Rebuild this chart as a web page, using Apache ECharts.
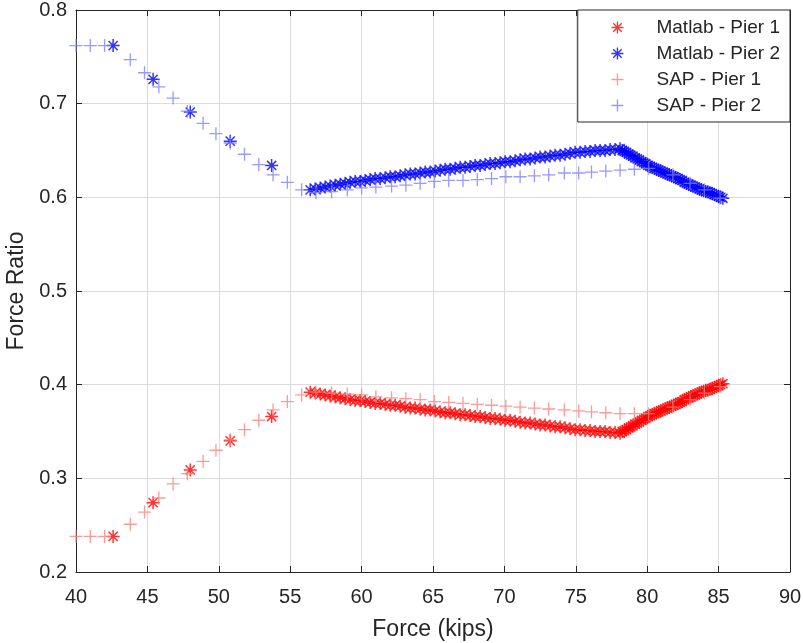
<!DOCTYPE html>
<html>
<head>
<meta charset="utf-8">
<script src="https://cdn.jsdelivr.net/npm/echarts@6/dist/echarts.min.js"></script>
<style>
  html, body { margin: 0; padding: 0; background: #fff; }
  #container { width: 803px; height: 643px; }
</style>
</head>
<body>
<div id="container"></div>
<script>
// force (kips) of the Matlab runs
const matlabX = [
    42.6, 45.4, 48.0, 50.8, 53.7,
    56.40, 56.75, 57.10, 57.45, 57.80, 58.15, 58.50, 58.85, 59.20, 59.55,
    59.90, 60.25, 60.60, 60.95, 61.30, 61.65, 62.00, 62.35, 62.70, 63.05,
    63.40, 63.75, 64.10, 64.45, 64.80, 65.15, 65.50, 65.85, 66.20, 66.55,
    66.90, 67.25, 67.60, 67.95, 68.30, 68.65, 69.00, 69.35, 69.70, 70.05,
    70.40, 70.75, 71.10, 71.45, 71.80, 72.15, 72.50, 72.85, 73.20, 73.55,
    73.90, 74.25, 74.60, 74.95, 75.30, 75.65, 76.00, 76.35, 76.70, 77.05,
    77.40, 77.75, 78.10,
    78.25, 78.40, 78.55, 78.70, 78.85, 79.00, 79.15, 79.30, 79.45, 79.60,
    79.75, 79.90, 80.05, 80.20, 80.35, 80.50, 80.65, 80.80, 80.95, 81.10,
    81.25, 81.40, 81.55, 81.70, 81.85, 82.00, 82.15, 82.30, 82.45, 82.60,
    82.75, 82.90, 83.05, 83.20, 83.35, 83.50, 83.65, 83.80, 83.95, 84.10,
    84.25, 84.40, 84.55, 84.70, 84.85, 85.00, 85.15, 85.30
];
const matlabPier1 = [
    0.238, 0.274, 0.309, 0.340, 0.366,
    0.392, 0.391, 0.390, 0.389, 0.388, 0.387, 0.386, 0.385, 0.384, 0.383,
    0.383, 0.382, 0.381, 0.380, 0.380, 0.379, 0.378, 0.378, 0.377, 0.376,
    0.375, 0.375, 0.374, 0.373, 0.373, 0.372, 0.371, 0.370, 0.370, 0.369,
    0.368, 0.368, 0.367, 0.366, 0.366, 0.365, 0.364, 0.364, 0.363, 0.362,
    0.362, 0.361, 0.360, 0.359, 0.359, 0.358, 0.357, 0.357, 0.356, 0.355,
    0.355, 0.354, 0.353, 0.352, 0.352, 0.351, 0.351, 0.350, 0.350, 0.350,
    0.349, 0.349, 0.348,
    0.350, 0.351, 0.352, 0.354, 0.355, 0.356, 0.358, 0.359, 0.360, 0.362,
    0.363, 0.364, 0.366, 0.367, 0.368, 0.369, 0.370, 0.371, 0.372, 0.373,
    0.374, 0.375, 0.376, 0.377, 0.378, 0.379, 0.380, 0.381, 0.382, 0.384,
    0.385, 0.386, 0.387, 0.388, 0.389, 0.390, 0.391, 0.392, 0.393, 0.394,
    0.394, 0.395, 0.396, 0.397, 0.398, 0.399, 0.400, 0.401
];
const matlabPier2 = [
    0.762, 0.726, 0.691, 0.660, 0.634,
    0.608, 0.609, 0.610, 0.611, 0.612, 0.613, 0.614, 0.615, 0.616, 0.617,
    0.617, 0.618, 0.619, 0.620, 0.620, 0.621, 0.622, 0.622, 0.623, 0.624,
    0.625, 0.625, 0.626, 0.627, 0.627, 0.628, 0.629, 0.630, 0.630, 0.631,
    0.632, 0.632, 0.633, 0.634, 0.634, 0.635, 0.636, 0.636, 0.637, 0.638,
    0.638, 0.639, 0.640, 0.641, 0.641, 0.642, 0.643, 0.643, 0.644, 0.645,
    0.645, 0.646, 0.647, 0.648, 0.648, 0.649, 0.649, 0.650, 0.650, 0.650,
    0.651, 0.651, 0.652,
    0.650, 0.649, 0.648, 0.646, 0.645, 0.644, 0.642, 0.641, 0.640, 0.638,
    0.637, 0.636, 0.634, 0.633, 0.632, 0.631, 0.630, 0.629, 0.628, 0.627,
    0.626, 0.625, 0.624, 0.623, 0.622, 0.621, 0.620, 0.619, 0.618, 0.616,
    0.615, 0.614, 0.613, 0.612, 0.611, 0.610, 0.609, 0.608, 0.607, 0.606,
    0.606, 0.605, 0.604, 0.603, 0.602, 0.601, 0.600, 0.599
];

// force (kips) of the SAP runs
const sapX = [
    40.0, 41.0, 42.0, 43.8, 44.8, 45.8, 46.8, 47.8, 48.9, 49.8,
    50.8, 51.8, 52.8, 53.8, 54.8, 55.8, 56.8, 57.9, 59.0, 60.0,
    61.0, 62.1, 63.1, 64.1, 65.1, 66.1, 67.1, 68.1, 69.1, 70.1,
    71.1, 72.1, 73.1, 74.2, 75.2, 76.1, 77.1, 78.1, 79.1, 80.1,
    81.8, 83.0, 84.0, 85.1
];
const sapPier1 = [
    0.238, 0.238, 0.238, 0.251, 0.264, 0.279, 0.294, 0.305, 0.318, 0.330,
    0.341, 0.352, 0.362, 0.373, 0.382, 0.389, 0.392, 0.391, 0.390, 0.389,
    0.387, 0.386, 0.385, 0.384, 0.382, 0.381, 0.380, 0.379, 0.378, 0.377,
    0.376, 0.375, 0.374, 0.373, 0.372, 0.371, 0.370, 0.369, 0.369, 0.369,
    0.376, 0.384, 0.391, 0.398
];
const sapPier2 = [
    0.762, 0.762, 0.762, 0.747, 0.733, 0.718, 0.706, 0.692, 0.679, 0.668,
    0.658, 0.646, 0.635, 0.624, 0.616, 0.608, 0.605, 0.606, 0.608, 0.610,
    0.611, 0.612, 0.613, 0.615, 0.617, 0.618, 0.618, 0.619, 0.620, 0.622,
    0.622, 0.623, 0.624, 0.626, 0.626, 0.627, 0.628, 0.629, 0.630, 0.631,
    0.624, 0.615, 0.608, 0.599
];

const xTicks = { min: 40, max: 90, interval: 5 };
const yTicks = { min: 0.2, max: 0.8, interval: 0.1 };

const STAR = 'path://M0,-10L0,10M-10,0L10,0M-7.07,-7.07L7.07,7.07M-7.07,7.07L7.07,-7.07';
const PLUS = 'path://M0,-10L0,10M-10,0L10,0';
const ink = '#262626';
const font = 'Liberation Sans, Arial, Helvetica, sans-serif';

function pairs(xs, ys) {
    return xs.map((x, i) => [x, ys[i]]);
}

function markSeries(name, xs, ys, symbol, size, color, lw) {
    return {
        name: name,
        type: 'scatter',
        symbol: symbol,
        symbolSize: size,
        itemStyle: { color: color, borderColor: color, borderWidth: lw },
        emphasis: { disabled: true },
        data: pairs(xs, ys)
    };
}

let chart = echarts.init(document.getElementById('container'));

let frameAxis = {
    axisLine: { show: true, lineStyle: { color: ink, width: 1 } },
    axisTick: { show: true, inside: true, length: 6, lineStyle: { color: ink } },
    axisLabel: { show: false },
    splitLine: { show: false }
};

let option = {
    animation: false,
    backgroundColor: '#fff',
    grid: { left: 76, right: 13, top: 10, bottom: 71, outerBoundsMode: 'none' },
    legend: {
        orient: 'vertical',
        right: 13,
        top: 10,
        padding: [8, 10, 7, 33],
        itemWidth: 68,
        itemHeight: 12,
        itemGap: 7,
        backgroundColor: '#fff',
        borderColor: ink,
        borderWidth: 1,
        borderRadius: 0,
        itemStyle: { borderWidth: 1.4 },
        textStyle: { fontFamily: font, fontSize: 19, color: ink },
        data: ['Matlab - Pier 1', 'Matlab - Pier 2', 'SAP - Pier 1', 'SAP - Pier 2']
    },
    xAxis: [
        {
            type: 'value',
            min: xTicks.min, max: xTicks.max, interval: xTicks.interval,
            name: 'Force (kips)',
            nameLocation: 'middle',
            nameGap: 46,
            nameTextStyle: { fontFamily: font, fontSize: 23, color: ink },
            axisLine: { show: true, onZero: false, lineStyle: { color: ink, width: 1 } },
            axisTick: { show: true, inside: true, length: 6, lineStyle: { color: ink } },
            axisLabel: { fontFamily: font, fontSize: 20, color: ink, margin: 15 },
            splitLine: { show: true, lineStyle: { color: '#dcdcdc', width: 1 } }
        },
        Object.assign({
            type: 'value', position: 'top',
            min: xTicks.min, max: xTicks.max, interval: xTicks.interval
        }, frameAxis)
    ],
    yAxis: [
        {
            type: 'value',
            min: yTicks.min, max: yTicks.max, interval: yTicks.interval,
            name: 'Force Ratio',
            nameLocation: 'middle',
            nameGap: 46,
            nameTextStyle: { fontFamily: font, fontSize: 23, color: ink },
            axisLine: { show: true, onZero: false, lineStyle: { color: ink, width: 1 } },
            axisTick: { show: true, inside: true, length: 6, lineStyle: { color: ink } },
            axisLabel: {
                fontFamily: font, fontSize: 20, color: ink, margin: 9,
                formatter: v => v.toFixed(1)
            },
            splitLine: { show: true, lineStyle: { color: '#dcdcdc', width: 1 } }
        },
        Object.assign({
            type: 'value', position: 'right',
            min: yTicks.min, max: yTicks.max, interval: yTicks.interval
        }, frameAxis)
    ],
    series: [
        markSeries('Matlab - Pier 1', matlabX, matlabPier1, STAR, 13, '#ff0000', 1.5),
        markSeries('Matlab - Pier 2', matlabX, matlabPier2, STAR, 13, '#0000ff', 1.5),
        markSeries('SAP - Pier 1', sapX, sapPier1, PLUS, 13, '#ff8080', 1.3),
        markSeries('SAP - Pier 2', sapX, sapPier2, PLUS, 13, '#8080ff', 1.3)
    ]
};

chart.setOption(option);
</script>
</body>
</html>
